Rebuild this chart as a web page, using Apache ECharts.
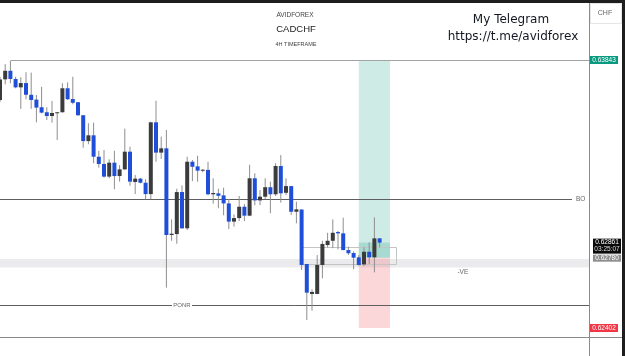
<!DOCTYPE html>
<html><head><meta charset="utf-8">
<script src="https://cdn.jsdelivr.net/npm/echarts@6/dist/echarts.min.js"></script>
<style>html,body{margin:0;padding:0;background:#fff}#c{width:625px;height:356px}</style>
</head><body><div id="c"></div>
<script>
// ---- data (CADCHF 4H candles) ----
const opens  = [0.63628,0.63739,0.63785,0.63741,0.63696,0.63719,0.63656,0.63630,0.63589,0.63562,0.63542,0.63558,0.63562,0.63691,0.63633,0.63616,0.63546,0.63407,0.63438,0.63323,0.63284,0.63216,0.63291,0.63219,0.63255,0.63350,0.63187,0.63205,0.63183,0.63122,0.63508,0.63345,0.63368,0.62902,0.62907,0.63133,0.62938,0.63296,0.63271,0.63248,0.63252,0.63121,0.63126,0.63115,0.63072,0.62974,0.62993,0.63054,0.63006,0.63207,0.63088,0.63108,0.63159,0.63121,0.63273,0.63129,0.63165,0.63027,0.63039,0.62746,0.62585,0.62585,0.62741,0.62848,0.62871,0.62918,0.62911,0.62821,0.62805,0.62782,0.62744,0.62812,0.62782,0.62884];
const closes = [0.63738,0.63785,0.63741,0.63696,0.63719,0.63656,0.63628,0.63587,0.63560,0.63542,0.63558,0.63562,0.63691,0.63632,0.63613,0.63546,0.63407,0.63438,0.63323,0.63284,0.63216,0.63291,0.63219,0.63255,0.63350,0.63189,0.63205,0.63183,0.63122,0.63508,0.63345,0.63368,0.62902,0.62909,0.63133,0.62938,0.63296,0.63269,0.63248,0.63253,0.63121,0.63128,0.63113,0.63072,0.62974,0.62993,0.63054,0.63006,0.63207,0.63088,0.63108,0.63159,0.63121,0.63273,0.63126,0.63165,0.63027,0.63040,0.62741,0.62592,0.62596,0.62741,0.62854,0.62871,0.62914,0.62911,0.62821,0.62804,0.62780,0.62741,0.62812,0.62782,0.62884,0.62861];
const highs  = [0.63752,0.63821,0.63838,0.63753,0.63750,0.63777,0.63775,0.63655,0.63699,0.63589,0.63623,0.63563,0.63718,0.63723,0.63753,0.63617,0.63547,0.63503,0.63506,0.63355,0.63359,0.63309,0.63355,0.63278,0.63474,0.63377,0.63225,0.63210,0.63202,0.63511,0.63624,0.63431,0.63467,0.62986,0.63151,0.63169,0.63323,0.63305,0.63328,0.63257,0.63296,0.63207,0.63151,0.63156,0.63096,0.63013,0.63112,0.63069,0.63280,0.63234,0.63144,0.63207,0.63189,0.63288,0.63332,0.63207,0.63166,0.63081,0.63040,0.62747,0.62610,0.62794,0.62871,0.62914,0.62986,0.62924,0.62995,0.62839,0.62814,0.62794,0.62836,0.62863,0.62997,0.62885];
const lows   = [0.63617,0.63712,0.63718,0.63691,0.63580,0.63632,0.63580,0.63508,0.63556,0.63520,0.63506,0.63413,0.63561,0.63628,0.63605,0.63542,0.63371,0.63390,0.63288,0.63264,0.63210,0.63207,0.63148,0.63189,0.63252,0.63167,0.63122,0.63180,0.63094,0.63094,0.63296,0.63311,0.62619,0.62871,0.62855,0.62935,0.62929,0.63192,0.63189,0.63239,0.63115,0.63070,0.63046,0.63008,0.62934,0.62947,0.62977,0.62977,0.63003,0.63062,0.63063,0.63096,0.63019,0.63112,0.63076,0.63117,0.63010,0.62965,0.62714,0.62445,0.62495,0.62584,0.62669,0.62836,0.62831,0.62825,0.62820,0.62794,0.62718,0.62737,0.62735,0.62746,0.62701,0.62836];
const totalSlots = 114;            // candles + empty future slots on the time axis
const priceRange = [0.623536, 0.641656]; // visible price span of the pane

// trade / drawing levels
const targetPrice = 0.63843, entryPrice = 0.62780, stopPrice = 0.62402, lastPrice = 0.62861;
const countdown = '03:25:07';
const boPrice = 0.63096, ponrPrice = 0.62526;
const zoneBand = [0.62773, 0.62727];      // grey "-VE" band
const rangeBox = [0.62836, 0.62744];      // thin grey range rectangle
const positionSlots = [69, 75];           // long position tool time span
const rangeSlots = [58, 76];
const targetLineStart = 2, boLineEnd = 110, ponrLabelSlot = 35, veLabelSlot = 89;
const axisTags = ['0.63843', '0.62861', '0.62780', '0.62402'];
const titleLines = ['AVIDFOREX', 'CADCHF', '4H TIMEFRAME'];
const promoLines = ['My Telegram', 'https://t.me/avidforex'];
const currencyLabel = 'CHF';

// ---- chart ----
const BLUE = '#1f4fd8', DARK = '#3b3b3b', WICK = '#8e8e8e';
const chart = echarts.init(document.getElementById('c'));
const cats = Array.from({length: totalSlots}, (_, i) => String(i));
chart.setOption({
  animation: false,
  grid: {left: 0, right: 37.4, top: 0, bottom: 19},
  xAxis: {type: 'category', data: cats, boundaryGap: false, show: false},
  yAxis: {type: 'value', min: priceRange[0], max: priceRange[1], show: false},
  series: [{
    type: 'custom', z: 5, clip: true,
    encode: {x: 0, y: [1, 2, 3, 4]},
    data: opens.map((o, i) => [i, o, closes[i], lows[i], highs[i]]),
    renderItem: function (params, api) {
      const i = api.value(0), o = api.value(1), c = api.value(2), l = api.value(3), h = api.value(4);
      const po = api.coord([i, o]), pc = api.coord([i, c]), pl = api.coord([i, l]), ph = api.coord([i, h]);
      const cx = po[0];
      const top = Math.min(po[1], pc[1]);
      const hgt = Math.max(1, Math.abs(po[1] - pc[1]));
      return {type: 'group', children: [
        {type: 'line', shape: {x1: cx, y1: ph[1], x2: cx, y2: pl[1]}, style: {stroke: WICK, lineWidth: 1}},
        {type: 'rect', shape: {x: cx - 2, y: top, width: 4, height: hgt}, style: {fill: c >= o ? DARK : BLUE}}
      ]};
    }
  }]
});

const P = (i, p) => chart.convertToPixel({xAxisIndex: 0, yAxisIndex: 0}, [i, p]);
const X = i => P(i, priceRange[1])[0];
const Y = p => P(0, p)[1];
const axisX = 589.5, W = 625, H = 356, bottomY = 337.5;
const FONT = '"Liberation Sans", Arial, sans-serif';
const txt = (x, y, text, size, fill, align, extra) => Object.assign({
  type: 'text', x: x, y: y, z: 10,
  style: Object.assign({text: text, fill: fill, font: size + 'px ' + FONT, textAlign: align || 'center', textVerticalAlign: 'middle', align: align || 'center', verticalAlign: 'middle'}, extra || {})
}, {});
const rect = (x, y, w, h, fill, z, stroke) => ({type: 'rect', z: z, shape: {x: x, y: y, width: w, height: h}, style: {fill: fill, stroke: stroke || null, lineWidth: 1}});
const hline = (x1, x2, y, stroke, z) => ({type: 'line', z: z, shape: {x1: x1, y1: Math.round(y) + 0.5, x2: x2, y2: Math.round(y) + 0.5}, style: {stroke: stroke, lineWidth: 1}});

const els = [];
// zones
els.push(rect(0, Y(zoneBand[0]), axisX, Y(zoneBand[1]) - Y(zoneBand[0]), 'rgba(120,123,134,0.15)', 1));
const px1 = X(positionSlots[0]), px2 = X(positionSlots[1]);
els.push(rect(px1, Y(targetPrice), px2 - px1, Y(entryPrice) - Y(targetPrice), 'rgba(8,153,129,0.2)', 1));
els.push(rect(px1, Y(entryPrice), px2 - px1, Y(stopPrice) - Y(entryPrice), 'rgba(242,54,69,0.2)', 1));
els.push(rect(px1, Y(lastPrice), px2 - px1, Y(entryPrice) - Y(lastPrice), 'rgba(8,153,129,0.2)', 1));
const rx1 = X(rangeSlots[0]), rx2 = X(rangeSlots[1]);
els.push({type: 'rect', z: 2, shape: {x: Math.round(rx1) + 0.5, y: Math.round(Y(rangeBox[0])) + 0.5, width: Math.round(rx2 - rx1), height: Math.round(Y(rangeBox[1]) - Y(rangeBox[0]))}, style: {fill: null, stroke: '#c4c4c4', lineWidth: 1}});
// lines
els.push(hline(X(targetLineStart), axisX, Y(targetPrice), '#a3a3a3', 2));
els.push(hline(0, X(boLineEnd), Y(boPrice), '#5e5e5e', 2));
els.push(txt(X(boLineEnd) + 4, Y(boPrice), 'BO', 6.5, '#666', 'left'));
els.push(hline(0, axisX, Y(ponrPrice), '#5e5e5e', 2));
els.push(rect(X(ponrLabelSlot) - 10, Y(ponrPrice) - 4, 20, 8, '#fff', 9));
els.push(txt(X(ponrLabelSlot), Y(ponrPrice), 'PONR', 6, '#666'));
els.push(txt(X(veLabelSlot), Y(zoneBand[1]) + 5, '-VE', 6.5, '#666'));
// frame
els.push(hline(0, W - 3, bottomY - 0.5, '#8a8a8a', 3));
els.push({type: 'line', z: 3, shape: {x1: axisX, y1: 0, x2: axisX, y2: H}, style: {stroke: '#8a8a8a', lineWidth: 1}});
els.push(rect(0, 0, W, 3, '#1e1e1e', 20));
els.push(rect(W - 3, 0, 3, H, '#1e1e1e', 20));
// axis tags
const tagX = axisX + 0.5, tagW = 28;
els.push(rect(tagX, Y(targetPrice) - 4, tagW, 8, '#089981', 10));
els.push(txt(tagX + tagW / 2, Y(targetPrice), axisTags[0], 6.5, '#fff'));
els.push(rect(tagX + 3, Y(lastPrice) - 4, tagW, 15, '#0b0b0b', 10));
els.push(txt(tagX + 3 + tagW / 2, Y(lastPrice), axisTags[1], 6.5, '#fff'));
els.push(txt(tagX + 3 + tagW / 2, Y(lastPrice) + 7, countdown, 6.5, '#ddd'));
els.push(rect(tagX + 3, Y(entryPrice) - 3, tagW, 7, '#8f8f8f', 10));
els.push(txt(tagX + 3 + tagW / 2, Y(entryPrice) + 0.5, axisTags[2], 6.5, '#fff'));
els.push(rect(tagX, Y(stopPrice) - 4, tagW, 8, '#f23645', 10));
els.push(txt(tagX + tagW / 2, Y(stopPrice), axisTags[3], 6.5, '#fff'));
// header texts
els.push(txt(295, 15, titleLines[0], 6.5, '#444'));
els.push(txt(296, 29, titleLines[1], 9.5, '#222'));
els.push(txt(296, 44, titleLines[2], 5.5, '#444'));
els.push(txt(511, 20, promoLines[0], 12, '#131722', 'center', {font: '12px "DejaVu Sans", sans-serif'}));
els.push(txt(513, 37, promoLines[1], 12, '#131722', 'center', {font: '12px "DejaVu Sans", sans-serif'}));
els.push(rect(590.5, 3.5, 31, 20, '#fff', 8, '#e6e6e6'));
els.push(txt(605, 13, currencyLabel, 7, '#666'));

chart.setOption({graphic: {elements: els}});
</script></body></html>
